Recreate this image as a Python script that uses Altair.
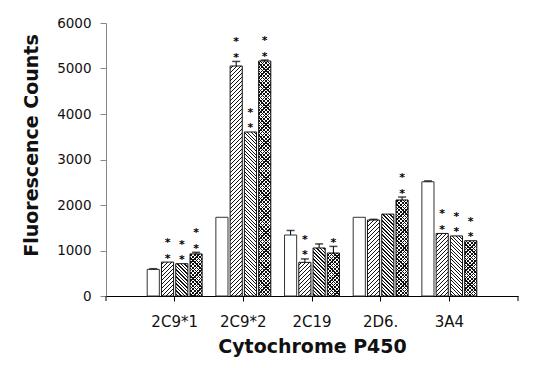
import altair as alt
import pandas as pd

categories = ["2C9*1", "2C9*2", "2C19", "2D6.", "3A4"]
series = ["1", "2", "3", "4"]

values_1 = [585, 1730, 1340, 1730, 2510]
values_2 = [745, 5055, 740, 1670, 1375]
values_3 = [710, 3605, 1055, 1800, 1320]
values_4 = [925, 5165, 945, 2110, 1215]

errors_1 = [15, 0, 100, 0, 20]
errors_2 = [0, 100, 75, 15, 0]
errors_3 = [0, 0, 90, 0, 0]
errors_4 = [35, 20, 145, 65, 0]

stars_1 = [0, 0, 0, 0, 0]
stars_2 = [2, 2, 2, 0, 2]
stars_3 = [2, 2, 0, 0, 2]
stars_4 = [2, 2, 1, 2, 2]

y_ticks = [0, 1000, 2000, 3000, 4000, 5000, 6000]

W, H = 412, 273
YMAX = 6000

vals = [values_1, values_2, values_3, values_4]
errs = [errors_1, errors_2, errors_3, errors_4]
strs = [stars_1, stars_2, stars_3, stars_4]

rows = []
for si, s in enumerate(series):
    for ci, c in enumerate(categories):
        v = vals[si][ci]
        e = errs[si][ci]
        rows.append({"cat": c, "ser": s, "value": v, "err": e, "top": v + e,
                     "stars": strs[si][ci]})
df = pd.DataFrame(rows)

# geometry of the bands (to orient hatch stripes)
PI_OUT, PO_OUT = 0.2, 0.6
PI_IN = 0.15
step_out = W / (len(categories) - PI_OUT + 2 * PO_OUT)
bw_out = step_out * (1 - PI_OUT)
step_in = bw_out / (len(series) - PI_IN)
bar_w = step_in * (1 - PI_IN)


def stripes(w, h, d, lw, direction, line="#111111", bg="white"):
    t = h / w
    L = w + h * h / w
    if direction == "/":
        x1, y1, x2, y2 = 0, 0, 1, t
    else:
        x1, y1, x2, y2 = 0, 1, 1, 1 - t
    span = w + h
    stops = [{"offset": 0, "color": bg}]
    pos = d / 2
    while pos < span:
        a = min(pos / L, 1)
        b = min((pos + lw) / L, 1)
        stops += [{"offset": a, "color": bg}, {"offset": a, "color": line},
                  {"offset": b, "color": line}, {"offset": b, "color": bg}]
        pos += d
    stops.append({"offset": 1, "color": bg})
    return {"gradient": "linear", "x1": x1, "y1": y1, "x2": x2, "y2": y2,
            "stops": stops}


x_enc = alt.X("cat:N", sort=categories,
              scale=alt.Scale(domain=categories, paddingInner=PI_OUT, paddingOuter=PO_OUT),
              axis=alt.Axis(title="Cytochrome P450", labelAngle=0,
                            labelFont="DejaVu Sans", labelFontSize=15, labelColor="#111111",
                            labelPadding=13, tickSize=5, tickColor="#000000",
                            domainColor="#000000", grid=False,
                            titleFont="DejaVu Sans", titleFontSize=19, titleFontWeight="bold",
                            titleColor="#111111", titleY=56, titleBaseline="alphabetic"))
xo_enc = alt.XOffset("ser:N", sort=series,
                     scale=alt.Scale(domain=series, paddingInner=PI_IN, paddingOuter=0))
y_axis = alt.Axis(title="Fluorescence Counts", values=y_ticks, grid=False, format="d",
                  labelFont="DejaVu Sans", labelFontSize=13.5, labelColor="#111111",
                  labelPadding=9, tickSize=6, tickColor="#888888", domainColor="#888888",
                  titleFont="DejaVu Sans", titleFontSize=19, titleFontWeight="bold",
                  titleColor="#111111", titleAngle=270, titleX=-69, titleY=122,
                  titleBaseline="alphabetic", titleAlign="center")
y_scale = alt.Scale(domain=[0, YMAX], nice=False)
y_enc = alt.Y("value:Q", scale=y_scale, axis=y_axis)
y_top = alt.Y("top:Q", scale=y_scale, axis=y_axis)

base = alt.Chart(df)
layers = []

layers.append(base.transform_filter("datum.ser == '1'")
              .mark_bar(fill="white", stroke="#333333", strokeWidth=1)
              .encode(x=x_enc, xOffset=xo_enc, y=y_enc))

pattern = {"2": [("/", 4.0, 1.3)],
           "3": [("\\", 3.5, 1.3)],
           "4": [("/", 3.6, 1.2), ("\\", 3.6, 1.2)]}

for s in ["2", "3", "4"]:
    for c in categories:
        v = df[(df.ser == s) & (df.cat == c)]["value"].iloc[0]
        h = v / YMAX * H
        filt = f"datum.ser == '{s}' && datum.cat == '{c}'"
        n = len(pattern[s])
        for k, (dirn, d, lw) in enumerate(pattern[s]):
            bg = "white" if k == 0 else "rgba(255,255,255,0)"
            grad = stripes(bar_w, h, d, lw, dirn, bg=bg)
            if k == n - 1:
                mk = base.transform_filter(filt).mark_bar(fill=grad, stroke="#111111", strokeWidth=1)
            else:
                mk = base.transform_filter(filt).mark_bar(fill=grad, strokeWidth=0)
            layers.append(mk.encode(x=x_enc, xOffset=xo_enc, y=y_enc))

err_df = base.transform_filter("datum.err > 0")
layers.append(err_df.mark_rule(color="#000000", strokeWidth=1)
              .encode(x=x_enc, xOffset=xo_enc, y=y_enc, y2="top:Q"))
layers.append(err_df.mark_tick(color="#000000", size=8, thickness=1.5, orient="horizontal")
              .encode(x=x_enc, xOffset=xo_enc, y=y_top))

layers.append(base.transform_filter("datum.stars >= 1")
              .mark_text(text="*", font="DejaVu Sans", fontWeight="bold", fontSize=11,
                         color="#000000", baseline="alphabetic", dy=-0.5)
              .encode(x=x_enc, xOffset=xo_enc, y=y_top))
layers.append(base.transform_filter("datum.stars >= 2")
              .mark_text(text="*", font="DejaVu Sans", fontWeight="bold", fontSize=11,
                         color="#000000", baseline="alphabetic", dy=-16)
              .encode(x=x_enc, xOffset=xo_enc, y=y_top))

# end ticks of the category axis
one = alt.Chart(pd.DataFrame({"a": [0]}))
layers.append(one.mark_rule(color="#000000", strokeWidth=1)
              .encode(x=alt.value(0), y=alt.value(H), y2=alt.value(H + 5)))
layers.append(one.mark_rule(color="#000000", strokeWidth=1)
              .encode(x=alt.value(W), y=alt.value(H), y2=alt.value(H + 5)))

chart = alt.layer(*layers).properties(
    width=W, height=H,
    autosize=alt.AutoSizeParams(type="none"),
    padding={"left": 98, "top": 15, "right": 19, "bottom": 64},
    background="white",
).configure_view(stroke=None)

chart.save("out.html", embed_options={"renderer": "svg", "actions": False})
